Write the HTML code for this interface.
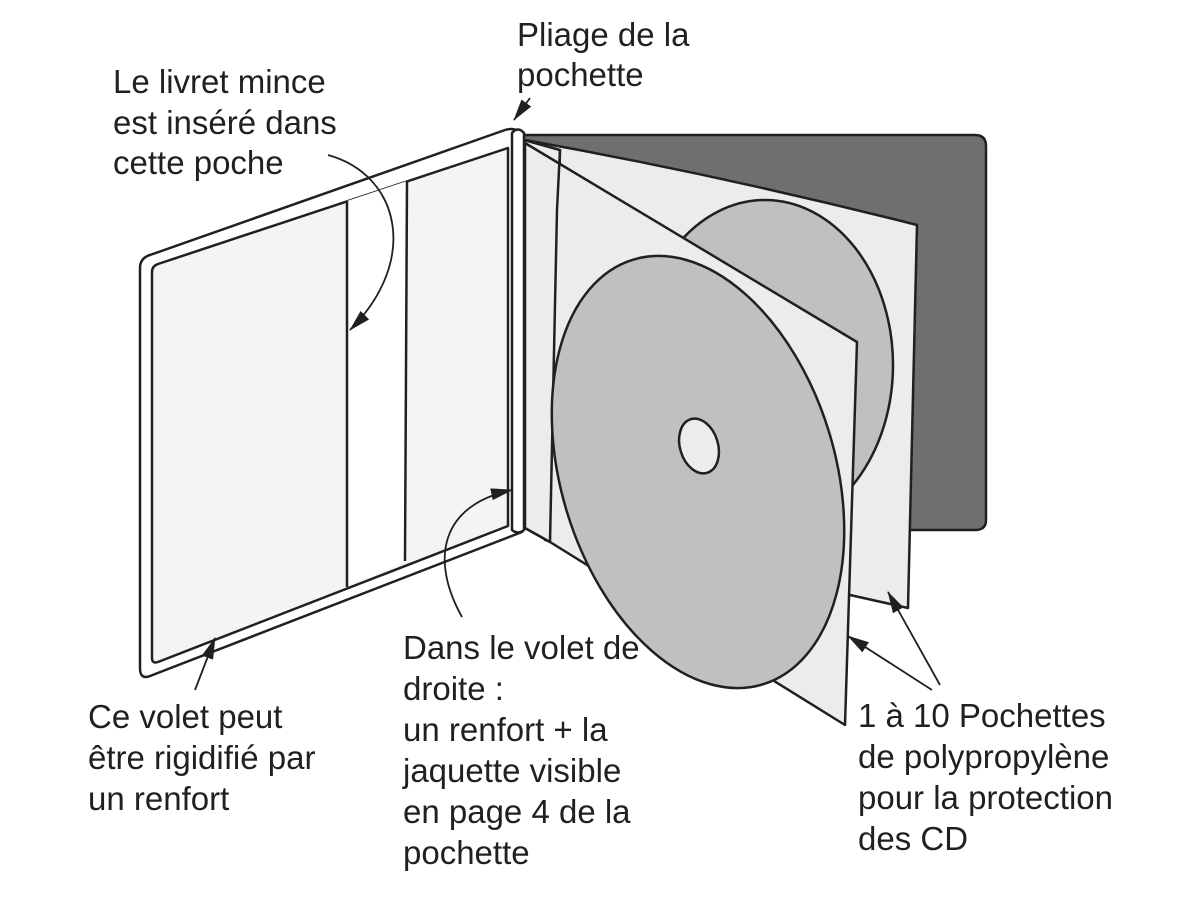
<!DOCTYPE html>
<html><head><meta charset="utf-8"><style>
html,body{margin:0;padding:0;background:#fff;}
svg{display:block}
text{font-family:"Liberation Sans",Arial,sans-serif;font-size:33px;fill:#231f20;}
</style></head><body>
<svg width="1200" height="900" viewBox="0 0 1200 900" xmlns="http://www.w3.org/2000/svg">
<defs>
<marker id="ahb" markerWidth="22" markerHeight="12" refX="21" refY="6" orient="auto" markerUnits="userSpaceOnUse" viewBox="0 0 22 12">
<path d="M0,0 L22,6 L0,12 Z" fill="#231f20"/>
</marker>
</defs>
<g stroke="#231f20" stroke-width="2.5" stroke-linejoin="round">
<path d="M522,135 L975,135 Q986,135 986,146 L986,520 Q986,530 975,530 L900,530 L900,300 L522,300 Z" fill="#6f6f6f"/>
<path d="M525,140 Q720,175 917,225 L908,608 L850,595 L545,540 Z" fill="#ececec"/>
<ellipse cx="765" cy="365" rx="128" ry="165" fill="#c0c0c0"/>
<path d="M524,140 L560,150 L550,542 L525,528 Z" fill="#ececec"/>
<path d="M525,143 L857,342 L845,725 L550,542 L525,528 Z" fill="#ececec"/>
<path d="M560,150 L557,210 L550,542" fill="none"/>
<ellipse cx="698" cy="472" rx="137" ry="222" transform="rotate(-17 698 472)" fill="#c0c0c0"/>
<ellipse cx="699" cy="446" rx="19" ry="28" transform="rotate(-17 699 446)" fill="#ececec"/>
<path d="M140,268 Q140,258 150,255 L505,130 Q514,127 522,133 L522,532 L150,676 Q140,680 140,668 Z" fill="#fff"/>
<path d="M152,272 Q152,266 158,264 L508,148 L508,526 L158,662 Q152,664 152,658 Z" fill="#f4f4f4"/>
<path d="M347,201 L407,181 L407,561 L347,587 Z" fill="#fff" stroke="none"/>
<line x1="347" y1="201" x2="347" y2="587"/>
<line x1="407" y1="181" x2="405" y2="561"/>
<path d="M512,133 Q518,126 524,133 L524,530 Q518,535 512,530 Z" fill="#fff"/>
</g>
<g fill="none" stroke="#231f20" stroke-width="1.8">
<path d="M328,155 C400,175 420,260 350,330" marker-end="url(#ahb)"/>
<path d="M462,617 C430,560 440,505 512,490" marker-end="url(#ahb)"/>
<path d="M195,690 L215,638" marker-end="url(#ahb)"/>
<path d="M530,98 L514,120" marker-end="url(#ahb)"/>
<path d="M940,685 L888,592" marker-end="url(#ahb)"/>
<path d="M932,690 L848,636" marker-end="url(#ahb)"/>
</g>
<text x="517" y="46">Pliage de la</text>
<text x="517" y="86">pochette</text>
<text x="113" y="93">Le livret mince</text>
<text x="113" y="134">est inséré dans</text>
<text x="113" y="174">cette poche</text>
<text x="88" y="728">Ce volet peut</text>
<text x="88" y="769">être rigidifié par</text>
<text x="88" y="810">un renfort</text>
<text x="403" y="659">Dans le volet de</text>
<text x="403" y="700">droite :</text>
<text x="403" y="741">un renfort + la</text>
<text x="403" y="782">jaquette visible</text>
<text x="403" y="823">en page 4 de la</text>
<text x="403" y="864">pochette</text>
<text x="858" y="727">1 à 10 Pochettes</text>
<text x="858" y="768">de polypropylène</text>
<text x="858" y="809">pour la protection</text>
<text x="858" y="850">des CD</text>
</svg>
</body></html>
